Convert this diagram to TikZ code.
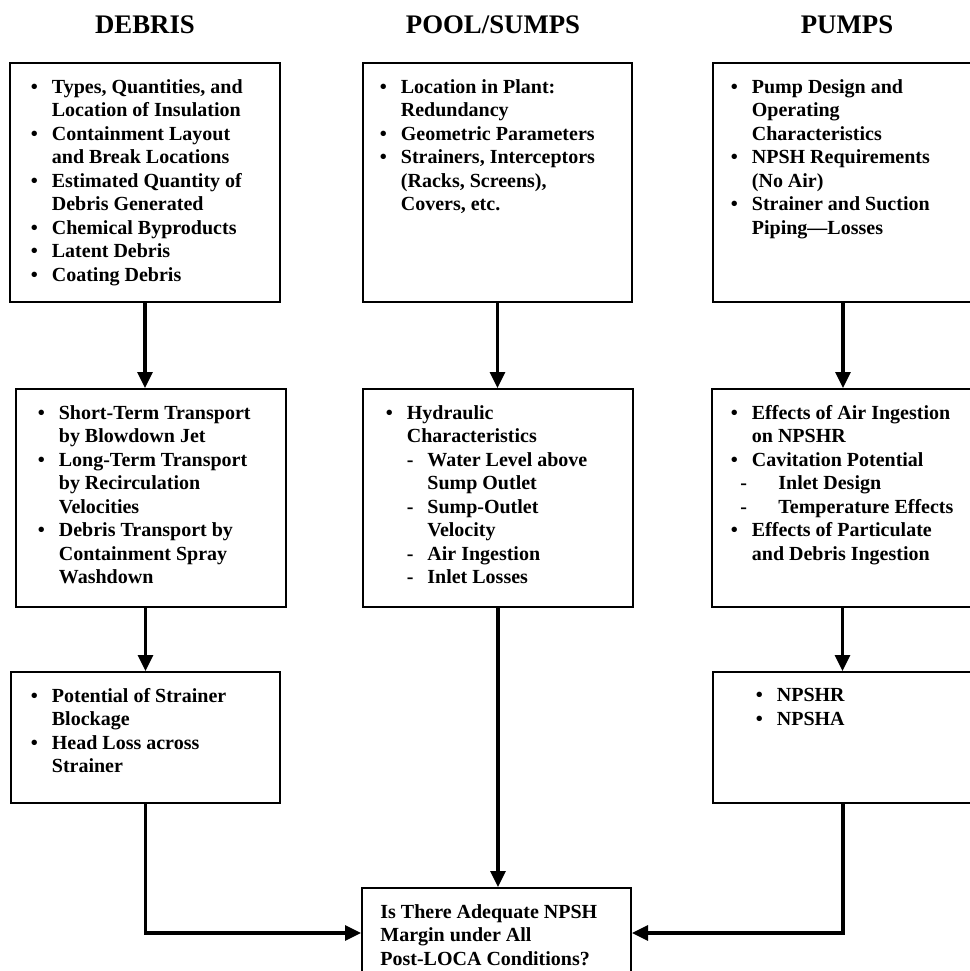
\documentclass[tikz,border=0pt]{standalone}
\usepackage{fontspec}
\setmainfont{Liberation Serif}
\usepackage{tikz}
\usetikzlibrary{positioning,arrows.meta}
\newcommand{\bul}[1]{\makebox[10.5pt][l]{\textbullet}#1}
\newcommand{\cont}[1]{\hspace*{10.5pt}#1}
\NewDocumentCommand{\dsh}{O{10.5pt} O{20.75pt} m}{\hspace*{#1}\makebox[\dimexpr#2-#1\relax][l]{-}#3}
\newcommand{\dcont}[1]{\hspace*{20.75pt}#1}

\begin{document}
\begin{tikzpicture}[x=0.5pt, y=-0.5pt,
  head/.style={font=\fontsize{13.4}{15}\selectfont\bfseries, inner sep=0pt},
  box/.style={draw, line width=1pt, inner sep=0pt},
  list/.style={inner sep=0pt, align=left, font=\fontsize{10}{11.75}\selectfont\bfseries},
  arr/.style={line width=1.6pt, -{Triangle[length=8pt,width=7.5pt]}}]
\clip (0,0) rectangle (970,971);
% column heads
\node[head] (hd) at (145,25) {DEBRIS};
\node[head] (hp) at (493,25) {POOL/SUMPS};
\node[head] (hu) at (847,25) {PUMPS};
% boxes
\node[box, minimum width=135pt, minimum height=119.5pt] (d1) at (145,182.5) {};
\node[box, minimum width=134.5pt, minimum height=119.5pt] (p1) at (497.5,182.5) {};
\node[box, minimum width=130pt, minimum height=119.5pt] (u1) at (843,182.5) {};
\node[box, minimum width=135pt, minimum height=109pt] (d2) at (151,498) {};
\node[box, minimum width=135pt, minimum height=109pt] (p2) at (498,498) {};
\node[box, minimum width=130.5pt, minimum height=109pt] (u2) at (842.5,498) {};
\node[box, minimum width=134.5pt, minimum height=65.5pt] (d3) at (145.5,737.5) {};
\node[box, minimum width=130pt, minimum height=65.5pt] (u3) at (843,737.5) {};
\node[box, minimum width=134.5pt, minimum height=45pt] (fin) at (496.5,933) {};
% box texts
\node[list, below right=8.5pt and 10.75pt of d1.north west] (d1t) {\bul{Types, Quantities, and}\\ \cont{Location of Insulation}\\ \bul{Containment Layout}\\ \cont{and Break Locations}\\ \bul{Estimated Quantity of}\\ \cont{Debris Generated}\\ \bul{Chemical Byproducts}\\ \bul{Latent Debris}\\ \bul{Coating Debris}};
\node[list, below right=8.5pt and 8.75pt of p1.north west] (p1t) {\bul{Location in Plant:}\\ \cont{Redundancy}\\ \bul{Geometric Parameters}\\ \bul{Strainers, Interceptors}\\ \cont{(Racks, Screens),}\\ \cont{Covers, etc.}};
\node[list, below right=8.5pt and 9.25pt of u1.north west] (u1t) {\bul{Pump Design and}\\ \cont{Operating}\\ \cont{Characteristics}\\ \bul{NPSH Requirements}\\ \cont{(No Air)}\\ \bul{Strainer and Suction}\\ \cont{Piping---Losses}};
\node[list, below right=8.5pt and 11.25pt of d2.north west] (d2t) {\bul{Short-Term Transport}\\ \cont{by Blowdown Jet}\\ \bul{Long-Term Transport}\\ \cont{by Recirculation}\\ \cont{Velocities}\\ \bul{Debris Transport by}\\ \cont{Containment Spray}\\ \cont{Washdown}};
\node[list, below right=8.5pt and 11.75pt of p2.north west] (p2t) {\bul{Hydraulic}\\ \cont{Characteristics}\\ \dsh{Water Level above}\\ \dcont{Sump Outlet}\\ \dsh{Sump-Outlet}\\ \dcont{Velocity}\\ \dsh{Air Ingestion}\\ \dsh{Inlet Losses}};
\node[list, below right=8.5pt and 9.75pt of u2.north west] (u2t) {\bul{Effects of Air Ingestion}\\ \cont{on NPSHR}\\ \bul{Cavitation Potential}\\ \dsh[4.75pt][23.75pt]{Inlet Design}\\ \dsh[4.75pt][23.75pt]{Temperature Effects}\\ \bul{Effects of Particulate}\\ \cont{and Debris Ingestion}};
\node[list, below right=8.5pt and 10.25pt of d3.north west] (d3t) {\bul{Potential of Strainer}\\ \cont{Blockage}\\ \bul{Head Loss across}\\ \cont{Strainer}};
\node[list, below right=8.5pt and 21.75pt of u3.north west] (u3t) {\bul{NPSHR}\\ \bul{NPSHA}};
\node[list, below right=8.5pt and 9.5pt of fin.north west] (fint) {Is There Adequate NPSH\\ Margin under All\\ Post-LOCA Conditions?};
% connectors
\draw[arr] (d1.south) -- (d1.south |- d2.north);
\draw[arr] (d3.north |- d2.south) -- (d3.north);
\draw[arr] (p1.south) -- (p1.south |- p2.north);
\draw[arr] (p2.south) -- (p2.south |- fin.north);
\draw[arr] (u1.south) -- (u1.south |- u2.north);
\draw[arr] (u2.south) -- (u2.south |- u3.north);
\draw[arr] (d3.south) |- (fin.west);
\draw[arr] (u3.south) |- (fin.east);
\end{tikzpicture}
\end{document}
